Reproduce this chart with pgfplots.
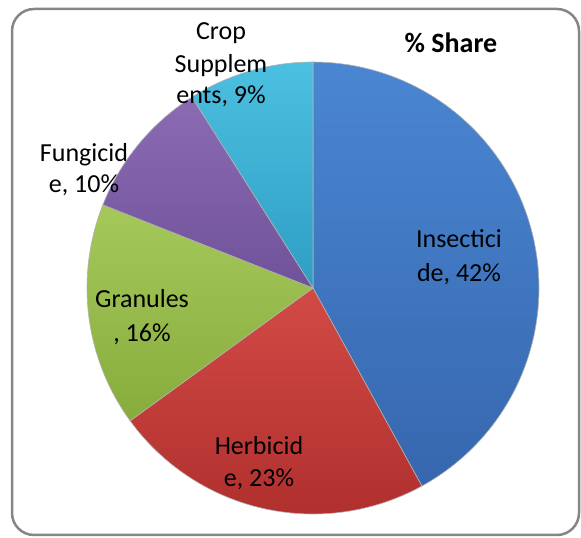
\documentclass[border=0pt]{standalone}
\usepackage{fontspec}
\setmainfont{Carlito}
\usepackage{pgfplots}
\pgfplotsset{compat=1.18}

\definecolor{insTop}{HTML}{4A86D2}
\definecolor{insBot}{HTML}{3667AE}
\definecolor{herTop}{HTML}{D24A46}
\definecolor{herBot}{HTML}{B0302E}
\definecolor{graTop}{HTML}{A4C85A}
\definecolor{graBot}{HTML}{88AC3C}
\definecolor{funTop}{HTML}{8A6BB4}
\definecolor{funBot}{HTML}{70529A}
\definecolor{cropTop}{HTML}{4CC0E0}
\definecolor{cropBot}{HTML}{2E9EC4}
\definecolor{frame}{HTML}{868686}

% one label line, base anchored, in picture pixels (origin = pie centre)
\newcommand{\lbl}[3]{\node[anchor=base, inner sep=0pt] at (axis cs:#1,#2) {\fontsize{26}{30}\selectfont #3};}

\begin{document}
\begin{tikzpicture}
\begin{axis}[
    x=1pt, y=1pt,
    xmin=-313, xmax=268,
    ymin=-250, ymax=288,
    axis lines=none,
    clip=false,
]
\path (axis cs:-313,-250) rectangle (axis cs:268,288);

% chart frame
\draw[frame, line width=2.5pt, rounded corners=22pt]
    (axis cs:-301,279) rectangle (axis cs:266,-247);

% shares (%): Insecticide 42, Herbicide 23, Granules 16, Fungicide 10, Crop Supplements 9
% slices run clockwise from 12 o'clock, 3.6 degrees per percent
\pgfplotsset{slice/.style={data cs=polar, samples=90, draw=black!30, line width=0.6pt}}
\addplot[slice, top color=insTop, bottom color=insBot, domain=90:90-3.6*42] {226} -- (axis cs:0,0) -- cycle;
\addplot[slice, top color=herTop, bottom color=herBot, domain=90-3.6*42:90-3.6*65] {226} -- (axis cs:0,0) -- cycle;
\addplot[slice, top color=graTop, bottom color=graBot, domain=90-3.6*65:90-3.6*81] {226} -- (axis cs:0,0) -- cycle;
\addplot[slice, top color=funTop, bottom color=funBot, domain=90-3.6*81:90-3.6*91] {226} -- (axis cs:0,0) -- cycle;
\addplot[slice, top color=cropTop, bottom color=cropBot, domain=90-3.6*91:90-3.6*100] {226} -- (axis cs:0,0) -- cycle;

% data labels
\lbl{146}{40}{Insectici}
\lbl{146}{6}{de, 42\%}
\lbl{-54}{-167}{Herbicid}
\lbl{-54}{-199}{e, 23\%}
\lbl{-171}{-20}{Granules}
\lbl{-171}{-54}{, 16\%}
\lbl{-229}{126}{Fungicid}
\lbl{-229}{95}{e, 10\%}
\lbl{-92}{248}{Crop}
\lbl{-92}{215}{Supplem}
\lbl{-92}{184}{ents, 9\%}

% title
\node[anchor=base, inner sep=0pt] at (axis cs:138,235) {\fontsize{28}{32}\selectfont\bfseries \% Share};
\end{axis}
\end{tikzpicture}
\end{document}
